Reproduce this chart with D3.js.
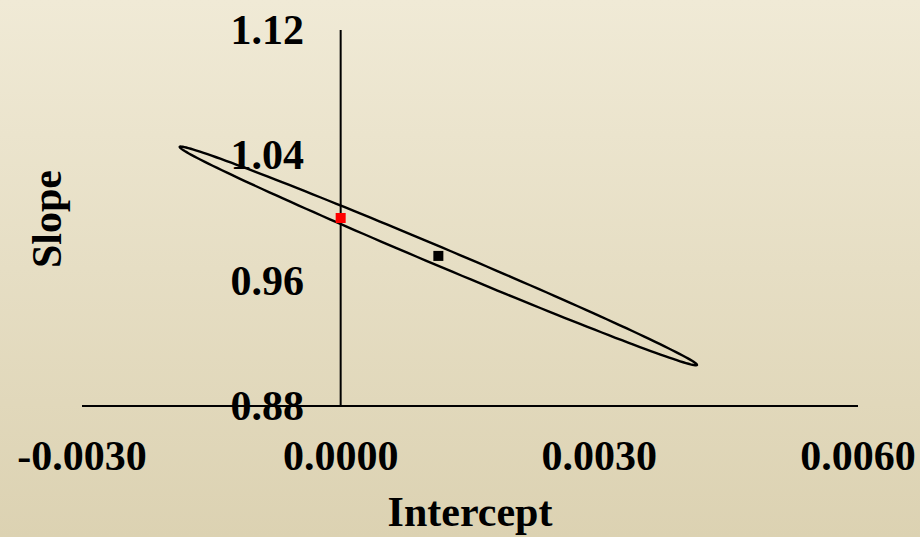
<!DOCTYPE html>
<html>
<head>
<meta charset="utf-8">
<script src="https://cdn.jsdelivr.net/npm/d3@7/dist/d3.min.js"></script>
<style>
  html, body { margin: 0; padding: 0; }
  svg { display: block; }
  text { font-family: "Liberation Serif", "Times New Roman", serif; font-weight: bold; fill: #000; }
</style>
</head>
<body>
<svg id="chart" width="920" height="537"></svg>
<script>
// Axis ticks
const xTicks = [-0.003, 0.0, 0.003, 0.006];
const yTicks = [0.88, 0.96, 1.04, 1.12];

// Joint confidence region for (intercept, slope): centre and two semi-axis vectors
const ellipseCenter = [0.001133, 0.9758];
const ellipseAxisMajor = [0.002999, -0.0696];
const ellipseAxisMinor = [-0.0000414, -0.00541];

// Points: ideal (0, 1) and estimate
const pointLabels = ["ideal", "estimate"];
const pointX = [0.0, 0.001133];
const pointY = [1.0, 0.9758];
const pointColors = ["#ff0000", "#000000"];

const svg = d3.select("#chart");
const W = 920, H = 537;

// Background gradient
const defs = svg.append("defs");
const grad = defs.append("linearGradient").attr("id", "bg")
  .attr("x1", 0).attr("y1", 0).attr("x2", 0).attr("y2", 1);
grad.append("stop").attr("offset", "0%").attr("stop-color", "#f0ead6");
grad.append("stop").attr("offset", "100%").attr("stop-color", "#dcd2b2");
svg.append("rect").attr("width", W).attr("height", H).attr("fill", "url(#bg)");

const x = d3.scaleLinear().domain([-0.003, 0.006]).range([82, 858]);
const y = d3.scaleLinear().domain([0.88, 1.12]).range([406, 30]);

// Plain hyphen-minus for negative tick labels
const fmtX = d => d3.format(".4f")(d).replace("\u2212", "-");
const fmtY = d => d3.format(".2f")(d);

// Axis lines crossing at (0, 0.88)
svg.append("line")
  .attr("x1", x(-0.003)).attr("x2", x(0.006))
  .attr("y1", y(0.88)).attr("y2", y(0.88))
  .attr("stroke", "#000").attr("stroke-width", 2);
svg.append("line")
  .attr("x1", x(0)).attr("x2", x(0))
  .attr("y1", y(0.88)).attr("y2", y(1.12))
  .attr("stroke", "#000").attr("stroke-width", 2);

// Tick labels
svg.append("g").selectAll("text").data(xTicks).join("text")
  .attr("x", d => x(d)).attr("y", 470)
  .attr("text-anchor", "middle")
  .style("font-size", "42px")
  .text(fmtX);

svg.append("g").selectAll("text").data(yTicks).join("text")
  .attr("x", 304).attr("y", d => y(d) + 14)
  .attr("text-anchor", "end")
  .style("font-size", "42px")
  .text(fmtY);

// Axis titles
svg.append("text").attr("x", 470).attr("y", 526)
  .attr("text-anchor", "middle").style("font-size", "42px").text("Intercept");
svg.append("text").attr("transform", "translate(61,219) rotate(-90)")
  .attr("text-anchor", "middle").style("font-size", "42px").text("Slope");

// Confidence ellipse
const ellipsePts = d3.range(0, 361, 2).map(deg => {
  const t = deg * Math.PI / 180;
  return [
    ellipseCenter[0] + ellipseAxisMajor[0] * Math.cos(t) + ellipseAxisMinor[0] * Math.sin(t),
    ellipseCenter[1] + ellipseAxisMajor[1] * Math.cos(t) + ellipseAxisMinor[1] * Math.sin(t)
  ];
});
svg.append("path")
  .attr("d", d3.line().x(d => x(d[0])).y(d => y(d[1])).curve(d3.curveLinearClosed)(ellipsePts))
  .attr("fill", "none").attr("stroke", "#000").attr("stroke-width", 2.4);

// Point markers
const s = 10;
svg.append("g").selectAll("rect").data(pointLabels).join("rect")
  .attr("x", (d, i) => x(pointX[i]) - s / 2)
  .attr("y", (d, i) => y(pointY[i]) - s / 2)
  .attr("width", s).attr("height", s)
  .attr("fill", (d, i) => pointColors[i]);
</script>
</body>
</html>
